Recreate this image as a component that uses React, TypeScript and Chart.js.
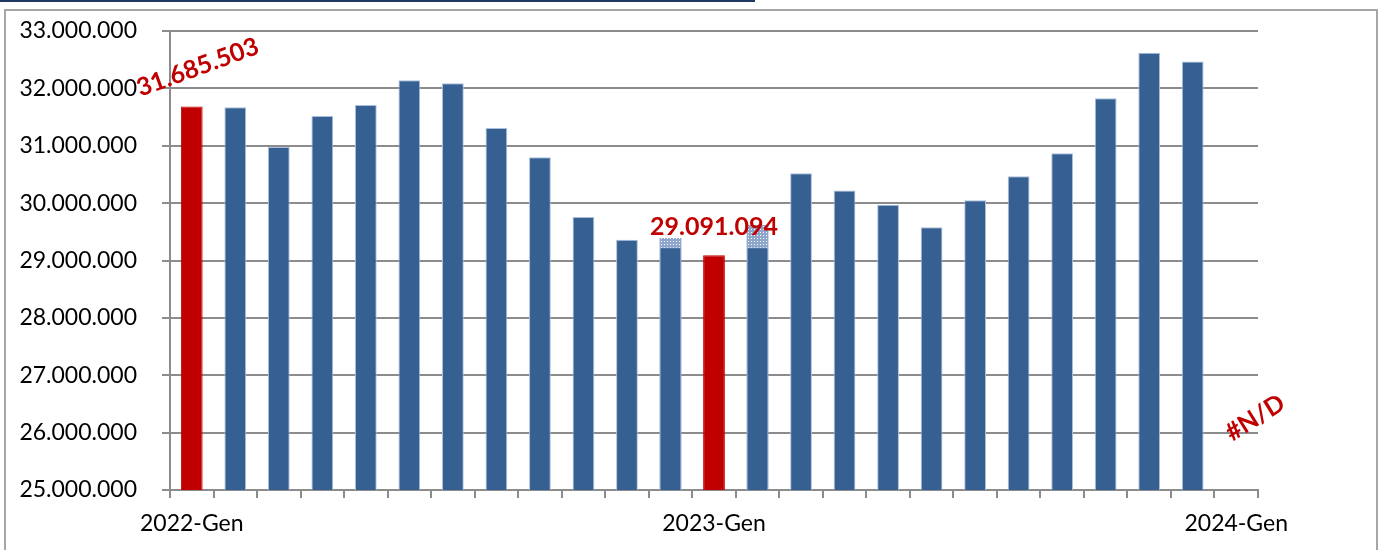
import React, { useEffect, useRef } from "react";
import { Chart, registerables } from "chart.js";

Chart.register(...registerables);

const MONTHS = ["Gen", "Feb", "Mar", "Apr", "Mag", "Giu", "Lug", "Ago", "Set", "Ott", "Nov", "Dic"];
const CATEGORIES: string[] = [
  ...MONTHS.map((m) => `2022-${m}`),
  ...MONTHS.map((m) => `2023-${m}`),
  "2024-Gen",
];

const VALUES: (number | null)[] = [
  31685503, 31670000, 30980000, 31520000, 31710000, 32140000, 32090000, 31310000,
  30800000, 29760000, 29360000, 29230000, 29091094, 29230000, 30520000, 30220000,
  29970000, 29580000, 30050000, 30470000, 30870000, 31830000, 32620000, 32470000, null,
];

const SHADOW_VALUES: (number | null)[] = [
  null, null, null, null, null, null, null, null, null, null, null, 29390000,
  null, 29620000, null, null, null, null, null, null, null, null, null, null, null,
];

const Y_MIN = 25000000;
const Y_MAX = 33000000;
const Y_STEP = 1000000;

const BLUE = "#376092";
const RED = "#C00000";
const GRID = "#8c8c8c";
const FONT = "Lato";

const fmt = (v: number) => Math.round(v).toString().replace(/\B(?=(\d{3})+(?!\d))/g, ".");
const isGen = (c: string) => c.endsWith("-Gen");

// label styling for successive "Gen" categories
const LABEL_ANGLES = [-20, 0, -32];
const LABEL_DX = [6, 0, 19];
const LABEL_DY = [-39, -28, -15];

const labelPlugin = {
  id: "genLabels",
  afterDatasetsDraw(chart: any) {
    const ctx = chart.ctx;
    const xs = chart.scales.x;
    const ys = chart.scales.y;
    let k = 0;
    CATEGORIES.forEach((c, i) => {
      if (!isGen(c)) return;
      const v = VALUES[i];
      const text = v == null ? "#N/D" : fmt(v);
      const x = xs.getPixelForValue(i) + LABEL_DX[k];
      const yBase = v == null ? chart.chartArea.bottom - 57 : ys.getPixelForValue(v);
      const y = yBase + LABEL_DY[k];
      ctx.save();
      ctx.translate(x, y);
      ctx.rotate((LABEL_ANGLES[k] * Math.PI) / 180);
      ctx.font = `bold 25px ${FONT}`;
      ctx.fillStyle = RED;
      ctx.textAlign = "center";
      ctx.textBaseline = "middle";
      ctx.fillText(text, 0, 0);
      ctx.restore();
      k++;
    });
  },
};

export default function App() {
  const ref = useRef<HTMLCanvasElement>(null);

  useEffect(() => {
    if (!ref.current) return;
    const pc = document.createElement("canvas");
    pc.width = 3;
    pc.height = 3;
    const p = pc.getContext("2d")!;
    p.fillStyle = "#8ea6cc";
    p.fillRect(0, 0, 3, 3);
    p.fillStyle = "#ffffff";
    p.fillRect(1, 1, 1, 1);
    const pattern = p.createPattern(pc, "repeat")!;

    const chart = new Chart(ref.current, {
      type: "bar",
      data: {
        labels: CATEGORIES,
        datasets: [
          {
            data: VALUES,
            backgroundColor: CATEGORIES.map((c) => (isGen(c) ? RED : BLUE)),
            borderColor: CATEGORIES.map((c) => (isGen(c) ? RED : "#a9bfdf")),
            borderWidth: 1,
            barPercentage: 0.5,
            categoryPercentage: 1,
            grouped: false,
            order: 1,
          },
          {
            data: SHADOW_VALUES,
            backgroundColor: pattern as any,
            borderWidth: 0,
            barPercentage: 0.5,
            categoryPercentage: 1,
            grouped: false,
            order: 2,
          },
        ],
      },
      options: {
        animation: false,
        responsive: false,
        devicePixelRatio: 1,
        layout: { padding: { top: 31, right: 123, left: 0, bottom: 0 } },
        plugins: { legend: { display: false }, tooltip: { enabled: false } },
        scales: {
          x: {
            offset: true,
            afterFit: (s: any) => {
              s.height = 60;
              s.paddingLeft = 0;
              s.paddingRight = 0;
            },
            grid: {
              offset: true,
              drawOnChartArea: false,
              drawTicks: true,
              tickLength: 8,
              color: GRID,
              lineWidth: 2,
            },
            border: { display: true, color: GRID, width: 2 },
            ticks: {
              autoSkip: false,
              maxRotation: 0,
              minRotation: 0,
              padding: 12,
              color: "#000",
              font: { family: FONT, size: 23 },
              callback: (_v: any, i: number) => (isGen(CATEGORIES[i]) ? CATEGORIES[i] : ""),
            },
          },
          y: {
            min: Y_MIN,
            max: Y_MAX,
            afterFit: (s: any) => {
              s.width = 170;
              s.paddingTop = 0;
              s.paddingBottom = 0;
            },
            grid: { color: GRID, lineWidth: 2, drawTicks: true, tickLength: 8 },
            border: { display: true, color: GRID, width: 2 },
            ticks: {
              stepSize: Y_STEP,
              padding: 25,
              color: "#000",
              font: { family: FONT, size: 23 },
              callback: (v: any) => fmt(Number(v)),
            },
          },
        },
      },
      plugins: [labelPlugin],
    });
    return () => chart.destroy();
  }, []);

  return (
    <div style={{ position: "fixed", left: 0, top: 0, width: 1381, height: 550, background: "#fff", overflow: "hidden" }}>
      <div style={{ position: "absolute", left: 0, top: 0, width: 755, height: 2, background: "#1f3864" }} />
      <div
        style={{
          position: "absolute",
          left: 4,
          top: 9,
          width: 1370,
          height: 600,
          border: "2px solid #a6a6a6",
        }}
      />
      <canvas ref={ref} width={1381} height={550} style={{ position: "absolute", left: 0, top: 0 }} />
    </div>
  );
}
